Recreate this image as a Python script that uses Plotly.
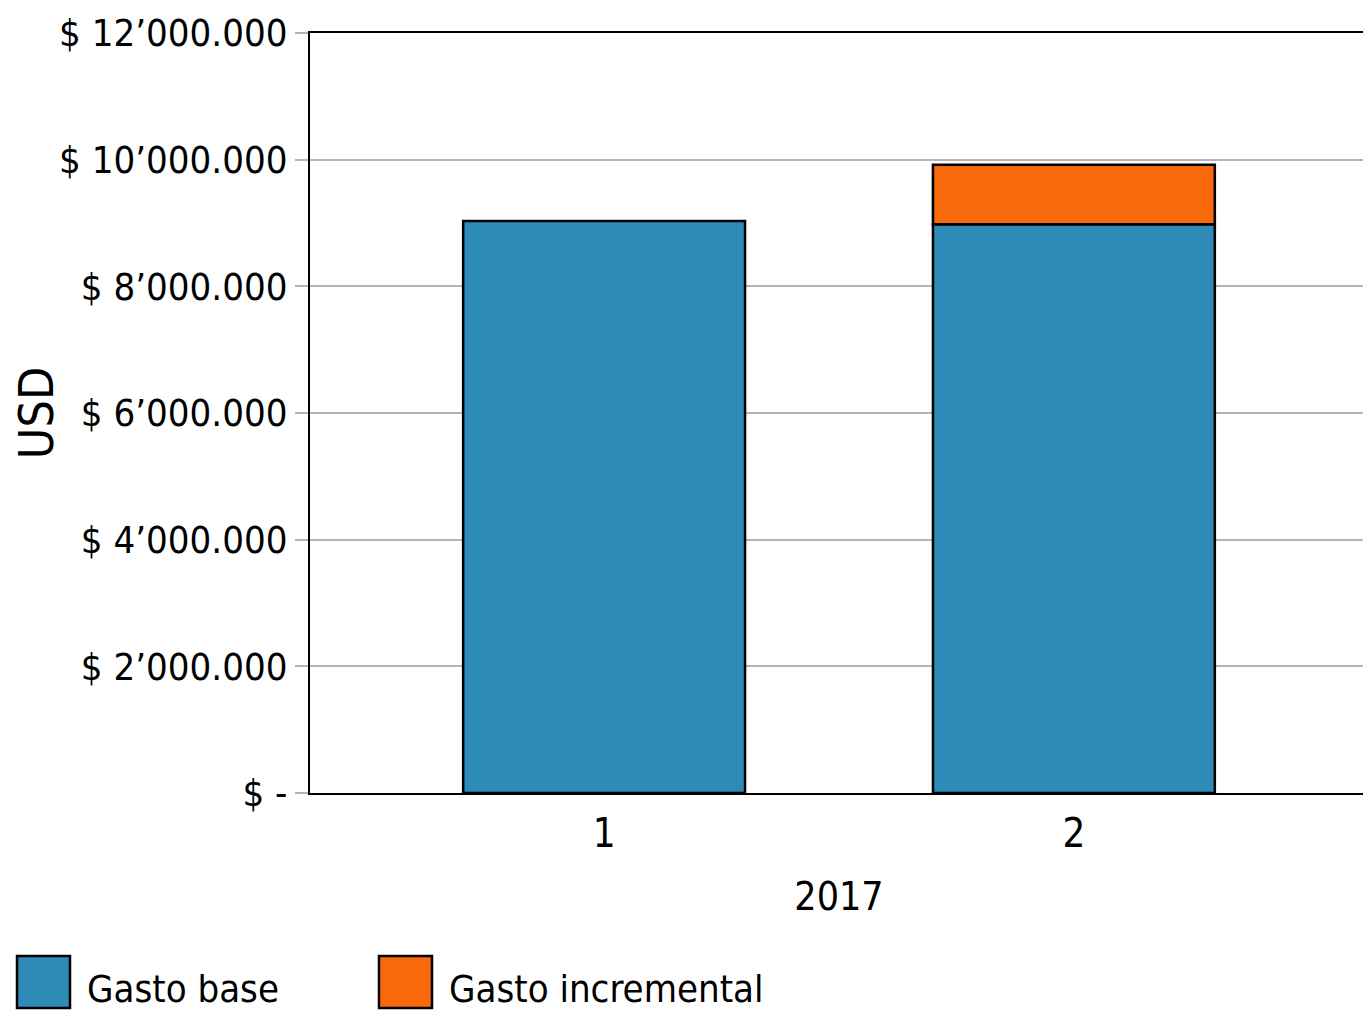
import plotly.graph_objects as go

periods = [1, 2]
gasto_base = [9030000, 8980000]
gasto_incremental = [0, 940000]
series_names = ["Gasto base", "Gasto incremental"]
colors = ["#2E8AB7", "#F8690B"]
y_tickvals = [0, 2000000, 4000000, 6000000, 8000000, 10000000, 12000000]
y_ticktext = ["$ -", "$ 2’000.000", "$ 4’000.000", "$ 6’000.000", "$ 8’000.000", "$ 10’000.000", "$ 12’000.000"]
x_title = "2017"
y_title = "USD"

FONT = "Liberation Sans Narrow, Arial Narrow, DejaVu Sans Condensed, sans-serif"

# page body has an 8px margin: figure is placed at (8, 8)
OFF = 8
W, H = 1363, 1016
L, R, T, B = 302, 3, 25, 231
PW, PH = W - L - R, H - T - B

fig = go.Figure()
fig.add_trace(go.Bar(x=periods, y=gasto_base, name=series_names[0], width=0.6,
                     marker=dict(color=colors[0], line=dict(color="black", width=2.5)),
                     showlegend=False))
fig.add_trace(go.Bar(x=[p for p, v in zip(periods, gasto_incremental) if v > 0],
                     y=[v for v in gasto_incremental if v > 0],
                     base=[b for b, v in zip(gasto_base, gasto_incremental) if v > 0],
                     name=series_names[1], width=0.6,
                     marker=dict(color=colors[1], line=dict(color="black", width=2.5)),
                     showlegend=False))

fig.update_layout(
    width=W, height=H,
    margin=dict(l=L, r=R, t=T, b=B),
    paper_bgcolor="white", plot_bgcolor="white",
    font=dict(family=FONT, color="black", size=38),
    barmode="overlay",
    showlegend=False,
)
fig.update_xaxes(range=[0.374, 2.626], tickvals=periods, ticktext=[str(p) for p in periods],
                 showgrid=False, showline=True, linecolor="black", linewidth=2, mirror=True,
                 ticks="", tickfont=dict(size=40, family=FONT), automargin=False,
                 ticklabelstandoff=4,
                 title=dict(text=x_title, font=dict(size=39, family=FONT), standoff=28),
                 zeroline=False)
fig.update_yaxes(range=[0, 12000000], tickvals=y_tickvals, ticktext=y_ticktext,
                 showgrid=True, gridcolor="#B5B5B5", gridwidth=2,
                 showline=True, linecolor="black", linewidth=2, mirror=True,
                 ticks="outside", ticklen=13, tickcolor="#B5B5B5", tickwidth=2,
                 tickfont=dict(size=38, family=FONT), automargin=False,
                 title=dict(text=y_title, font=dict(size=48, family=FONT), standoff=25),
                 zeroline=False)

# manual legend with large swatches (page pixels -> plot-area paper coords)
def px_x(px):
    return (px - OFF - L) / PW

def px_y(py):
    return (H - B - (py - OFF)) / PH

legend_x = [17, 379]
for i, (nm, col) in enumerate(zip(series_names, colors)):
    fig.add_shape(type="rect", xref="paper", yref="paper",
                  x0=px_x(legend_x[i]), x1=px_x(legend_x[i] + 53),
                  y0=px_y(1008), y1=px_y(956),
                  fillcolor=col, line=dict(color="black", width=2.5))
    fig.add_annotation(xref="paper", yref="paper", x=px_x(legend_x[i] + 68),
                       y=px_y(989), text=nm, showarrow=False,
                       xanchor="left", yanchor="middle",
                       font=dict(size=38, family=FONT, color="black"))

fig.write_html("out.html")
